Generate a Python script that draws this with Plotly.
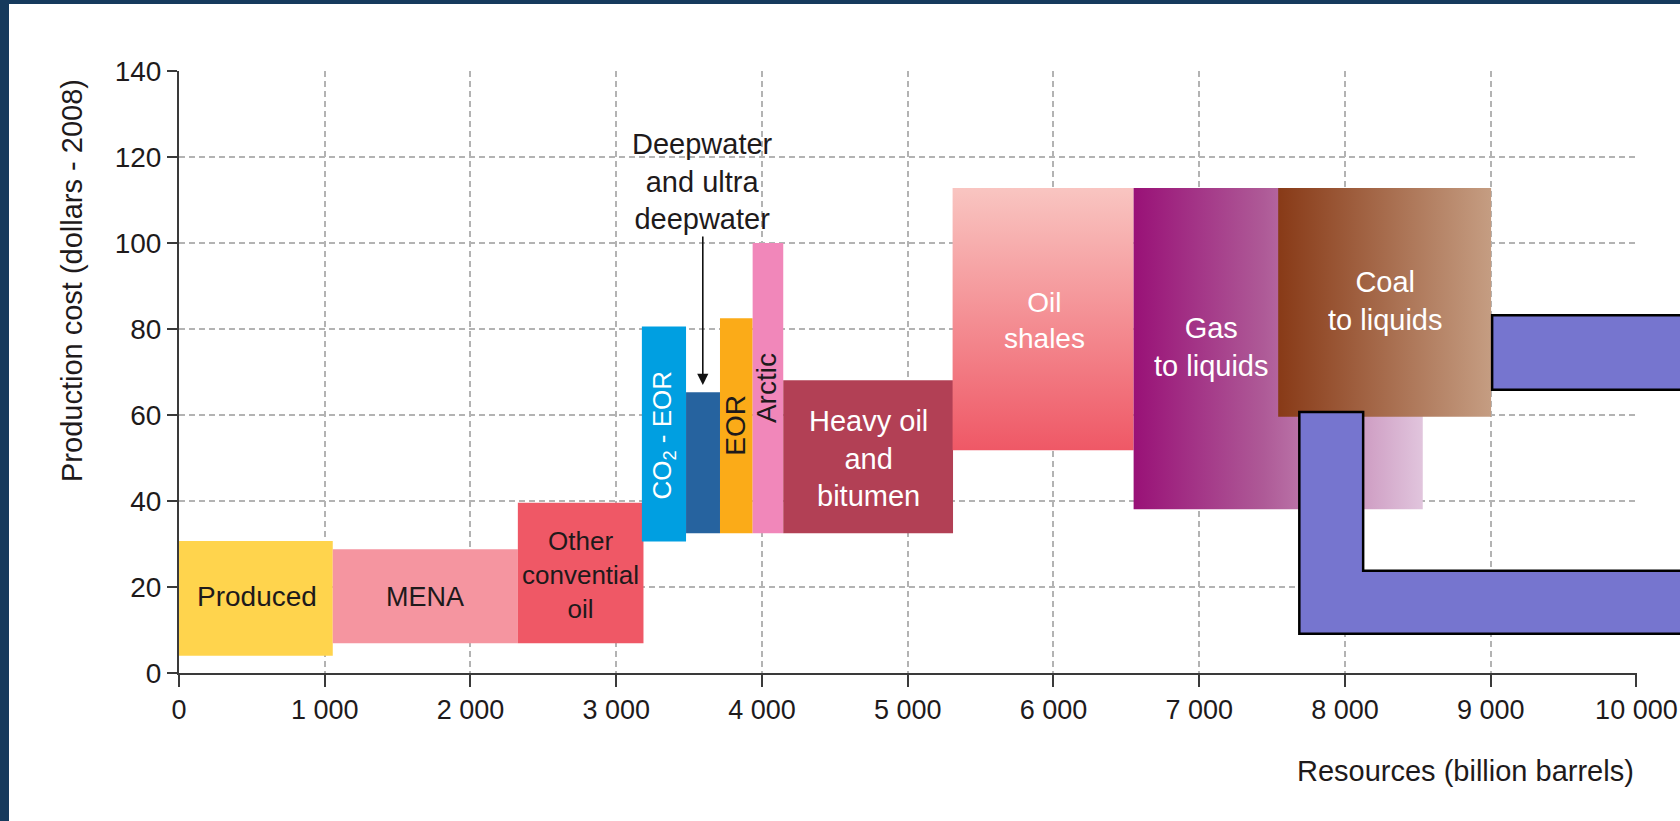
import plotly.graph_objects as go

# ---------------- data ----------------
categories = ["Produced", "MENA", "Other conventional oil", "CO2 - EOR",
              "Deepwater and ultra deepwater", "EOR", "Arctic",
              "Heavy oil and bitumen", "Oil shales", "Gas to liquids", "Coal to liquids"]
res_start = [0, 1055, 2325, 3176, 3479, 3712, 3936, 4146, 5308, 6550, 7542]
res_end = [1055, 2325, 3187, 3479, 3712, 3936, 4146, 5311, 6550, 8534, 9003]
cost_low = [4.0, 6.9, 6.9, 30.6, 32.5, 32.5, 32.5, 32.5, 51.8, 38.1, 59.6]
cost_high = [30.7, 28.8, 39.6, 80.6, 65.3, 82.5, 100.0, 68.1, 112.8, 112.8, 112.8]

colors = ["#ffd44d", "#f595a0", "#ef5866", "#009fe1", "#26639f", "#fbab18",
          "#f187ba", "#b24055", None, None, None]
gradients = {
    "Oil shales": ("vertical", [[0, "#ef5866"], [1, "#f9c5c1"]]),
    "Gas to liquids": ("horizontal", [[0, "#991177"], [0.45, "#ae5a97"], [1, "#e1c5dd"]]),
    "Coal to liquids": ("horizontal", [[0, "#883a17"], [1, "#c59d82"]]),
}

labels = ["Produced", "MENA", "Other<br>convential<br>oil", "CO<sub>2</sub> - EOR", "",
          "EOR", "Arctic", "Heavy oil<br>and<br>bitumen", "Oil<br>shales",
          "Gas<br>to liquids", "Coal<br>to liquids"]
label_x = [535, 1690, 2752, 3326, None, 3822, 4036, 4728, 5940, 7078, 8272]
label_y = [17.7, 17.7, 22.7, 55.4, None, 57.5, 66.3, 49.8, 82.0, 75.9, 86.6]
label_angle = [0, 0, 0, -90, 0, -90, -90, 0, 0, 0, 0]
label_size = [28, 27, 26, 26, 0, 28, 28, 29, 28, 29, 29]
label_color = ["#1e1a1b", "#1e1a1b", "#1e1a1b", "white", "white", "#1e1a1b",
               "#1e1a1b", "white", "white", "white", "white"]

deepwater_text = "Deepwater<br>and ultra<br>deepwater"
deepwater_text_pos = (3594, 114.3)
arrow_tip = (3594, 67.0)

x_ticks = list(range(0, 10001, 1000))
y_ticks = list(range(0, 141, 20))
x_range = [0, 10004]
y_range = [0, 140]

# overlay shapes (data coordinates)
overlay_rect = dict(x=[9010, 10450], y=[65.9, 83.2])
overlay_L_x = [7687, 8125, 8125, 10450, 10450, 7687]
overlay_L_y = [60.7, 60.7, 23.8, 23.8, 9.1, 9.1]

FONT = "Liberation Sans, Arial, sans-serif"
TXT = "#1e1a1b"

W, H = 1680, 821
ML, MR, MT, MB = 179, 43, 71, 148
PW, PH = W - ML - MR, H - MT - MB


def to_paper_x(v):
    return (v - x_range[0]) / (x_range[1] - x_range[0])


def to_paper_y(v):
    return (v - y_range[0]) / (y_range[1] - y_range[0])


def px_to_paper_x(px):
    return (px - ML) / PW


def px_to_paper_y(py):
    return (H - MB - py) / PH


fig = go.Figure()

for i, name in enumerate(categories):
    x0, x1, y0, y1 = res_start[i], res_end[i], cost_low[i], cost_high[i]
    kw = dict(x=[x0, x1, x1, x0, x0], y=[y0, y0, y1, y1, y0], fill="toself",
              mode="lines", line=dict(width=0), hoverinfo="skip", showlegend=False, name=name)
    if name in gradients:
        t, cs = gradients[name]
        kw["fillgradient"] = dict(type=t, colorscale=cs)
    else:
        kw["fillcolor"] = colors[i]
    fig.add_trace(go.Scatter(**kw))

annotations = []
for i, name in enumerate(categories):
    if not labels[i]:
        continue
    annotations.append(dict(x=label_x[i], y=label_y[i], xref="x", yref="y", text=labels[i],
                            showarrow=False, textangle=label_angle[i],
                            font=dict(family=FONT, size=label_size[i], color=label_color[i]),
                            xanchor="center", yanchor="middle"))

# Deepwater label with its arrow pointing down to the deepwater block
annotations.append(dict(x=arrow_tip[0], y=arrow_tip[1], xref="x", yref="y",
                        ax=deepwater_text_pos[0], ay=deepwater_text_pos[1], axref="x", ayref="y",
                        text=deepwater_text, showarrow=True, arrowhead=2,
                        arrowsize=1.4, arrowwidth=1.6, arrowcolor="#111111", standoff=0,
                        font=dict(family=FONT, size=29, color=TXT)))

annotations.append(dict(x=10000, y=px_to_paper_y(771), xref="x", yref="paper",
                        text="Resources (billion barrels)", showarrow=False,
                        xanchor="right", yanchor="middle",
                        font=dict(family=FONT, size=29, color=TXT)))
annotations.append(dict(x=px_to_paper_x(72), y=px_to_paper_y(281), xref="paper", yref="paper",
                        text="Production cost (dollars - 2008)", showarrow=False, textangle=-90,
                        xanchor="center", yanchor="middle",
                        font=dict(family=FONT, size=29, color=TXT)))

shapes = []
# white panel over navy frame
shapes.append(dict(type="rect", xref="paper", yref="paper",
                   x0=px_to_paper_x(9), x1=px_to_paper_x(W + 20),
                   y0=px_to_paper_y(H + 20), y1=px_to_paper_y(4),
                   fillcolor="white", line=dict(width=0), layer="below"))

# overlay purple shapes
rx = [to_paper_x(v) for v in overlay_rect["x"]]
ry = [to_paper_y(v) for v in overlay_rect["y"]]
shapes.append(dict(type="rect", xref="paper", yref="paper", x0=rx[0], x1=rx[1], y0=ry[0], y1=ry[1],
                   fillcolor="#7675cf", line=dict(color="black", width=2.5), layer="above"))
path = "M " + " L ".join(f"{to_paper_x(a)},{to_paper_y(b)}" for a, b in zip(overlay_L_x, overlay_L_y)) + " Z"
shapes.append(dict(type="path", xref="paper", yref="paper", path=path,
                   fillcolor="#7675cf", line=dict(color="black", width=2.5), layer="above"))

fig.update_layout(
    width=W, height=H,
    margin=dict(l=ML, r=MR, t=MT, b=MB, pad=0, autoexpand=False),
    paper_bgcolor="#163a5d",
    plot_bgcolor="rgba(0,0,0,0)",
    separators=". ",
    showlegend=False,
    annotations=annotations,
    shapes=shapes,
    font=dict(family=FONT, color=TXT),
)

fig.update_xaxes(range=x_range, tickvals=x_ticks, tickformat=",d", automargin=False,
                 showgrid=True, gridcolor="#b3b3b3", griddash="6px,4px", gridwidth=1.5,
                 showline=True, linecolor="#3a3a3a", linewidth=2, zeroline=False,
                 ticks="outside", ticklen=12, tickwidth=2, tickcolor="#3a3a3a",
                 ticklabeloverflow="allow",
                 tickfont=dict(family=FONT, size=27, color=TXT), fixedrange=True)
fig.update_yaxes(range=y_range, tickvals=y_ticks, automargin=False,
                 showgrid=True, gridcolor="#b3b3b3", griddash="6px,4px", gridwidth=1.5,
                 showline=True, linecolor="#3a3a3a", linewidth=2, zeroline=False,
                 ticks="outside", ticklen=10, tickwidth=2, tickcolor="#3a3a3a",
                 tickfont=dict(family=FONT, size=28, color=TXT), fixedrange=True)

fig.write_html("out.html", config={"displayModeBar": False},
               post_script="document.body.style.margin='0';document.body.style.overflow='hidden';")
